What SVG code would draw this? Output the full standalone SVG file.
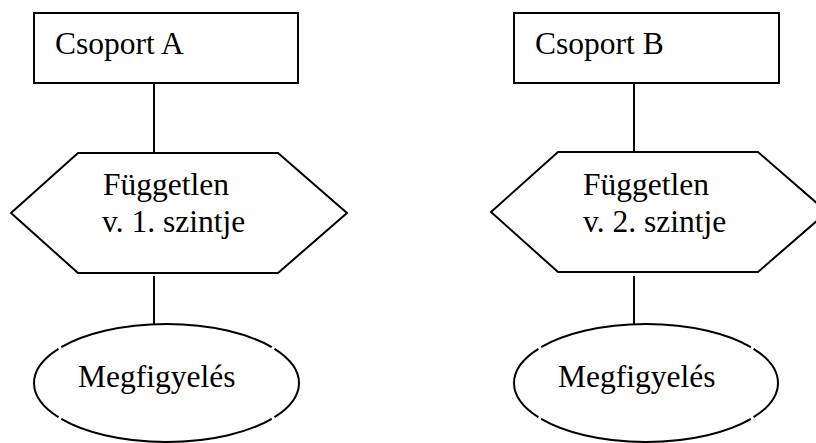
<svg xmlns="http://www.w3.org/2000/svg" width="816" height="443" viewBox="0 0 816 443">
<style>
.shape{fill:#fff;stroke:#000;stroke-width:2}
.arc{fill:none;stroke:#000;stroke-width:2}
.conn{stroke:#000;stroke-width:2;fill:none}
text{font-family:"Liberation Serif","Times New Roman",serif;font-size:31.5px;fill:#000}
</style>
<rect width="816" height="443" fill="#fff"/>
<g id="connectors">
<line class="conn" x1="154" y1="83" x2="154" y2="153"/>
<line class="conn" x1="154" y1="276" x2="154" y2="324"/>
<line class="conn" x1="634" y1="83" x2="634" y2="152"/>
<line class="conn" x1="634" y1="276" x2="634" y2="324"/>
</g>
<g id="csoportA">
<rect class="shape" x="34" y="13" width="264" height="70"/>
<text x="55" y="54">Csoport A</text>
</g>
<g id="fuggetlen1">
<polygon class="shape" points="11,213 78,153 278,153 347,213 278,273 78,273"/>
<text x="103" y="195">Független</text>
<text x="102" y="232">v. 1. szintje</text>
</g>
<g id="megfigyelesA">
<path class="arc" d="M271.76,418.84 A132.5,59 0 0 1 61.24,418.84 M58.5,417.18 A132.5,59 0 0 1 58.5,348.82 M61.24,347.16 A132.5,59 0 0 1 271.76,347.16 M274.5,348.82 A132.5,59 0 0 1 274.5,417.18"/>
<text x="78" y="387">Megfigyelés</text>
</g>
<g id="csoportB">
<rect class="shape" x="514" y="13" width="265" height="70"/>
<text x="535" y="54">Csoport B</text>
</g>
<g id="fuggetlen2">
<polygon class="shape" points="491,212 558,152 758,152 827,212 758,272 558,272"/>
<text x="583" y="195">Független</text>
<text x="583" y="232">v. 2. szintje</text>
</g>
<g id="megfigyelesB">
<path class="arc" d="M750.86,418.84 A132,59 0 0 1 541.14,418.84 M538.41,417.18 A132,59 0 0 1 538.41,348.82 M541.14,347.16 A132,59 0 0 1 750.86,347.16 M753.59,348.82 A132,59 0 0 1 753.59,417.18"/>
<text x="558" y="387">Megfigyelés</text>
</g>
</svg>
